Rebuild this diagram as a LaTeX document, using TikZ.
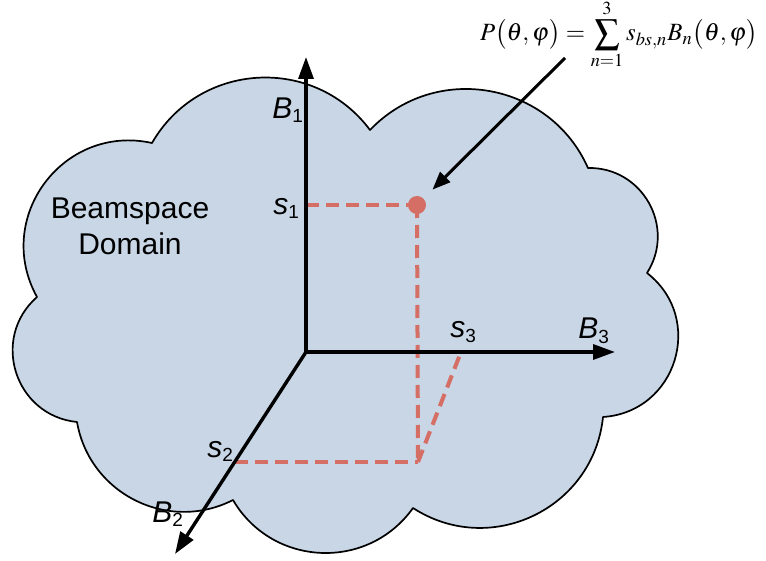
\documentclass[tikz,border=0pt]{standalone}
\usepackage{mathptmx}
\usepackage[no-math]{fontspec}
\setmainfont{Liberation Sans}
\usetikzlibrary{arrows.meta}
\definecolor{cloudfill}{RGB}{200,214,230}
\definecolor{dashred}{RGB}{213,110,100}
\newcommand\axlab[2]{\textit{#1}\raisebox{-2pt}{\fontsize{9.5}{10}\selectfont #2}}
\begin{document}
\begin{tikzpicture}[x=0.5pt,y=-0.5pt,
  cloud/.style={draw=black, line width=0.85pt, fill=cloudfill, line join=round},
  axis/.style={line width=1.7pt, -{Triangle[length=11pt,width=7.5pt]}},
  guide/.style={draw=dashred, line width=2pt, dash pattern=on 6.5pt off 3.5pt},
  lab/.style={inner sep=0pt, font=\fontsize{15}{18}\selectfont},
  pointer/.style={line width=1.5pt, -{Triangle[length=9pt,width=7pt]}, shorten >=6.2pt},
  dotstyle/.style={circle, fill=dashred, inner sep=0pt, minimum size=9pt}]
\useasboundingbox (0,0) rectangle (766,561);
% cloud
\draw[cloud] (370,130)
  to[bend left=56.2, looseness=1.094] (588,168)
  to[bend left=61.9, looseness=1.158] (647,273)
  to[bend left=69.2, looseness=1.257] (603,417)
  to[bend left=58.5, looseness=1.119] (413,508)
  to[bend left=57.1, looseness=1.103] (233,500)
  to[bend left=53.6, looseness=1.068] (77,422)
  to[bend left=66.4, looseness=1.217] (37,297)
  to[bend left=65.7, looseness=1.206] (152,143)
  to[bend left=56.7, looseness=1.1] (370,130) -- cycle;
% coordinates
\coordinate (O) at (306,352);
\coordinate (T1) at (306,57);
\coordinate (T3) at (615,352);
\coordinate (T2) at (175,554);
\coordinate (S1) at (306,205);
\coordinate (S2) at (235,462);
\coordinate (S3) at (461,352);
\coordinate (Q) at (418,462);
\coordinate (fa) at (565,58);
\node[dotstyle] (dot) at (417,205) {};
% dashed guides
\draw[guide] (S1) -- (dot.center);
\draw[guide] (dot.center) -- (Q);
\draw[guide] (S2) -- (Q);
\draw[guide] (Q) -- (S3);
% axes
\draw[axis] (O) -- (T1);
\draw[axis] (O) -- (T3);
\draw[axis] (O) -- (T2);
% labels
\node[lab, anchor=base west] (b1) at (272,119) {\axlab{B}{1}};
\node[lab, anchor=base west] (s1) at (273,215) {\axlab{s}{1}};
\node[lab, anchor=base west] (s3) at (450,338) {\axlab{s}{3}};
\node[lab, anchor=base west] (b3) at (578,339) {\axlab{B}{3}};
\node[lab, anchor=base west] (s2) at (207,457) {\axlab{s}{2}};
\node[lab, anchor=base west] (b2) at (152,522) {\axlab{B}{2}};
\node[lab, align=center] (dom) at (130,226) {Beamspace\\Domain};
% formula
\node[anchor=base, inner sep=0pt] (formula) at (619,41)
  {\fontsize{12.4}{14}\selectfont $\displaystyle P\bigl(\theta,\varphi\bigr)=\sum_{n=1}^{3}s_{bs,n}B_n\bigl(\theta,\varphi\bigr)$};
\draw[pointer] (fa) -- (dot);
\end{tikzpicture}
\end{document}
